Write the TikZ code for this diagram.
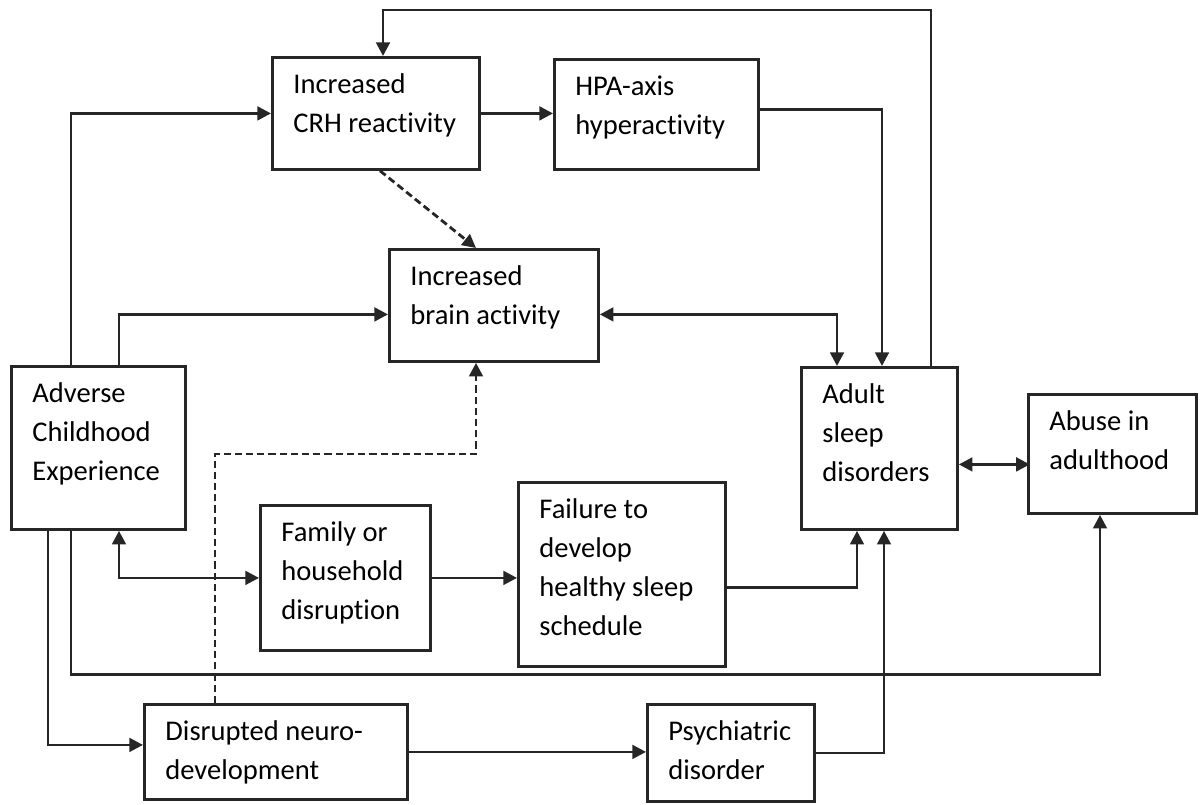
\documentclass[tikz,border=0pt]{standalone}
\usepackage{fontspec}
\setmainfont[Ligatures=NoCommon]{Carlito}
\usetikzlibrary{arrows.meta}
\newlength\px
\setlength\px{0.025cm}
\newcommand{\stagetext}[3]{\parbox[c][#2\px][t]{#1\px}{\raggedright\leftskip=21\px\rule{0pt}{36\px}#3}}
\tikzset{
  stage/.style={draw=black!85, line width=2pt, inner sep=0pt, anchor=north west, font=\fontsize{20.3pt}{27.7pt}\selectfont},
  link/.style={draw=black!85, line width=2pt, -{Triangle[length=0.34cm,width=0.34cm]}},
  twoway/.style={link, {Triangle[length=0.34cm,width=0.34cm]}-{Triangle[length=0.34cm,width=0.34cm]}},
  hint/.style={link, dash pattern=on 0.18cm off 0.1cm},
}
\begin{document}
\begin{tikzpicture}[x=0.025cm,y=-0.025cm]
\useasboundingbox (0,0) rectangle (1200,804);
%\draw[gray,very thin] (0,0) grid[step=100] (1200,804);
\node[stage] (crh) at (271,56) {\stagetext{207}{112}{Increased\\CRH reactivity}};
\node[stage] (hpa) at (553,58) {\stagetext{204}{110}{HPA-axis\\hyperactivity}};
\node[stage] (brain) at (388,248) {\stagetext{209}{112}{Increased\\brain activity}};
\node[stage] (ace) at (10,365) {\stagetext{174}{163}{Adverse\\Childhood\\Experience}};
\node[stage] (adult) at (800,366) {\stagetext{156}{162}{Adult\\sleep\\disorders}};
\node[stage] (abuse) at (1027,393) {\stagetext{168}{119}{Abuse in\\adulthood}};
\node[stage] (family) at (259,504) {\stagetext{170}{145}{Family or\\household\\disruption}};
\node[stage] (failure) at (517,481) {\stagetext{207}{184}{Failure to\\develop\\healthy sleep\\schedule}};
\node[stage] (disrupt) at (143,703) {\stagetext{263}{95}{Disrupted neuro-\\development}};
\node[stage] (psych) at (646,703) {\stagetext{167}{97}{Psychiatric\\disorder}};
% upper part
\draw[link] ([xshift=61\px]ace.north west) |- (crh.west);
\draw[link] ([xshift=109\px]ace.north west) |- ([yshift=-9\px]brain.west);
\draw[link] (crh.east) -- (hpa.west |- crh.east);
\draw[link] ([yshift=5\px]hpa.east) -| ([xshift=82\px]adult.north west);
\draw[twoway] ([yshift=-9\px]brain.east) -| ([xshift=37\px]adult.north west);
\draw[link] ([xshift=131\px]adult.north west) -- ++(0,-356) -| ([xshift=112\px]crh.north west);
\draw[hint] ([xshift=109\px]crh.south west) -- ([xshift=88\px]brain.north west);
\draw[hint] ([xshift=72\px]disrupt.north west) -- ++(0,-249) -| ([xshift=88\px]brain.south west);
% lower part
\draw[twoway] ([xshift=109\px]ace.south west) |- (family.west);
\draw[link] (family.east) -- (failure.west |- family.east);
\draw[link] ([yshift=-13\px]failure.east) -| ([xshift=57\px]adult.south west);
\draw[link] ([xshift=61\px]ace.south west) -- ++(0,144) -| ([xshift=73\px]abuse.south west);
\draw[link] ([xshift=38\px]ace.south west) |- ([yshift=7\px]disrupt.west);
\draw[link] (disrupt.east) -- (psych.west |- disrupt.east);
\draw[link] (psych.east) -| ([xshift=84\px]adult.south west);
\draw[twoway] ([yshift=-16\px]adult.east) -- ++(71,0);
\end{tikzpicture}
\end{document}
